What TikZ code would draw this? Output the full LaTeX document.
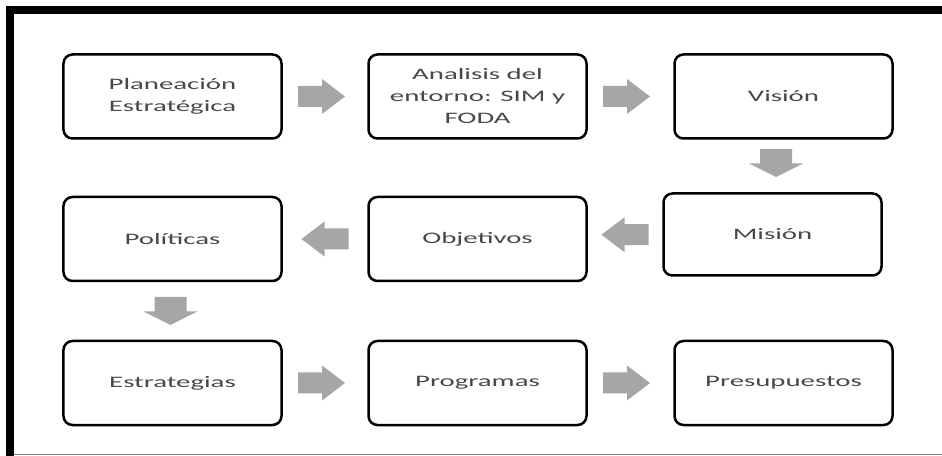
\documentclass[tikz,border=0pt]{standalone}
\usepackage{fontspec}
\usetikzlibrary{calc}
\newfontfamily\boxfont[FakeStretch=1.8]{Carlito}
\definecolor{arrowgray}{RGB}{166,166,166}
\definecolor{labelgray}{RGB}{72,72,72}
\begin{document}
\begin{tikzpicture}[x=1bp,y=-1bp,
  stage/.style={draw=black, line width=2.5bp, rounded corners=9bp, fill=white,
    minimum width=218bp, minimum height=84bp, inner sep=2bp, align=center,
    text=labelgray, font=\boxfont\fontsize{16bp}{22bp}\selectfont},
  rarrow/.pic={\fill[arrowgray] (-23.5,-10.5) -- (0.5,-10.5) -- (0.5,-17.5) -- (23.5,0)
    -- (0.5,17.5) -- (0.5,10.5) -- (-23.5,10.5) -- cycle;},
  larrow/.pic={\fill[arrowgray] (23.5,-10.5) -- (-0.5,-10.5) -- (-0.5,-17.5) -- (-23.5,0)
    -- (-0.5,17.5) -- (-0.5,10.5) -- (23.5,10.5) -- cycle;},
  darrow/.pic={\fill[arrowgray] (-16,-14) -- (16,-14) -- (16,0.5) -- (27,0.5) -- (0,14)
    -- (-27,0.5) -- (-16,0.5) -- cycle;}]
\useasboundingbox (0,0) rectangle (942,456);
\fill[white] (0,0) rectangle (942,456);
% frame: heavy rules on top and left, thin rule at the bottom
\fill[black] (6,6) rectangle (942,14);
\fill[black] (6,6) rectangle (14,456);
\draw[gray, line width=1.2bp] (14,454.6) -- (942,454.6);

% stages
\node[stage] (plan) at (172.5,96.5) {Planeación\\Estratégica};
\node[stage] (anal) at (477.5,96.5) {Analisis del\\entorno: SIM y\\FODA};
\node[stage] (vis)  at (783.5,96.5) {Visión};
\node[stage, minimum height=82bp] (mis) at (772.5,234.5) {Misión};
\node[stage] (obj)  at (477.5,239) {Objetivos};
\node[stage] (pol)  at (172.5,239) {Políticas};
\node[stage] (est)  at (172.5,383) {Estrategias};
\node[stage] (prog) at (477.5,383) {Programas};
\node[stage] (pres) at (783.5,383) {Presupuestos};

% block arrows between consecutive stages
\pic[xshift=-3.5bp] at ($(plan.east)!0.5!(anal.west)$) {rarrow};
\pic[xshift=-4bp] at ($(anal.east)!0.5!(vis.west)$) {rarrow};
\pic[xshift=-2bp, yshift=3bp] at ($(vis.south)!0.5!(mis.north)$) {darrow};
\pic[yshift=2bp] at ($(mis.west)!0.5!(obj.east)$) {larrow};
\pic at ($(obj.west)!0.5!(pol.east)$) {larrow};
\pic[xshift=-2bp] at ($(pol.south)!0.5!(est.north)$) {darrow};
\pic[xshift=-3.5bp] at ($(est.east)!0.5!(prog.west)$) {rarrow};
\pic[xshift=-4bp] at ($(prog.east)!0.5!(pres.west)$) {rarrow};
\end{tikzpicture}
\end{document}
